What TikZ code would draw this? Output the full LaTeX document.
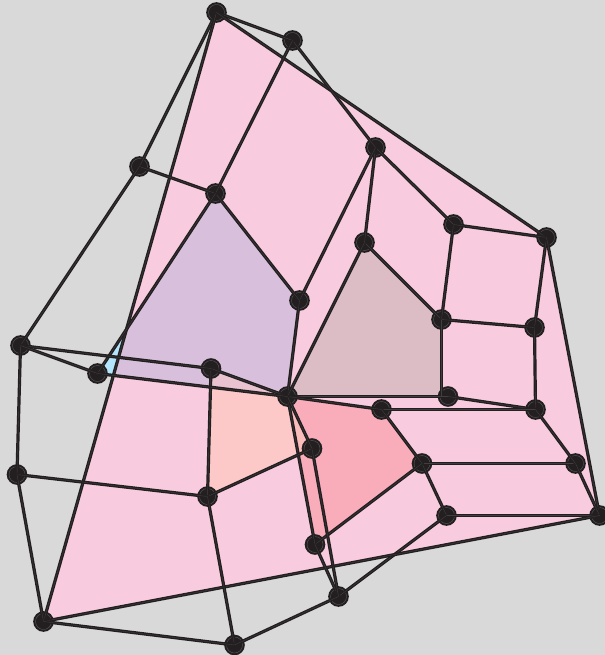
\documentclass[tikz,border=0pt]{standalone}
\definecolor{bgc}{HTML}{D9D9D9}
\definecolor{dark}{HTML}{231F20}
\definecolor{core}{HTML}{5A585A}
\definecolor{corelink}{HTML}{403E3F}
\definecolor{pinkc}{HTML}{F9CBDF}
\definecolor{purplec}{HTML}{D8C0DD}
\definecolor{bluec}{HTML}{B3E5FC}
\definecolor{brownc}{HTML}{DCBCC5}
\definecolor{orangec}{HTML}{FCC8C8}
\definecolor{rosec}{HTML}{F9ADBA}
\definecolor{mixc}{HTML}{E9C4D0}
\definecolor{peachc}{HTML}{FBBCBC}
\tikzset{
  vtx/.style={circle,fill=dark,draw=core,line width=0.3pt,inner sep=0pt,minimum size=12pt,
    preaction={draw=dark,line width=3.4pt}},
  lnk/.style={draw=dark,line width=2.4pt,postaction={draw=corelink,line width=0.3pt}},
}
\begin{document}
\begin{tikzpicture}[x=0.75pt,y=-0.75pt]
\useasboundingbox (0,0) rectangle (605,655);
\fill[bgc] (0,0) rectangle (605,655);
% vertices as coordinates first
\foreach \n/\x/\y in {a/216.5/12.5,b/292.5/40.5,c/375.5/147.5,d/139.5/166.5,e/215.5/193.5,f/453.5/224.5,g/546.5/237.5,h/364.5/242.5,i/299.5/300.5,j/441.5/319.5,k/534.5/327.5,l/20.5/345.5,m/97.5/373.5,n/211/368.5,o/287.5/396.5,p/448/396.5,q/381.5/409.5,r/535.5/409.5,s/312/448.5,t/422/463.5,u/575.5/463.5,v/17/474.5,w/207.5/496.5,x/446.5/515.5,y/599.5/515.5,z/315/544.5,aa/338.5/596.5,ab/43.5/621.5,ac/234.5/645}
  \coordinate (\n) at (\x,\y);
\coordinate (pj) at (441.5,396);
% regions
\fill[pinkc] (a) -- (g) -- (y) -- (ab) -- cycle;
\coordinate (b1) at (intersection cs:first line={(a)--(ab)},second line={(e)--(m)});
\coordinate (b2) at (intersection cs:first line={(a)--(ab)},second line={(m)--(o)});
\coordinate (c1) at (intersection cs:first line={(n)--(w)},second line={(m)--(o)});
\coordinate (c2) at (intersection cs:first line={(o)--(z)},second line={(s)--(w)});
\fill[bluec] (m) -- (b2) -- (b1) -- cycle;
\fill[purplec] (e) -- (i) -- (o) -- (b2) -- (b1) -- cycle;
\fill[brownc] (h) -- (j) -- (pj) -- (o) -- cycle;
\fill[orangec] (n) -- (o) -- (s) -- (w) -- cycle;
\fill[mixc] (n) -- (o) -- (c1) -- cycle;
\fill[rosec] (o) -- (q) -- (t) -- (z) -- cycle;
\fill[peachc] (o) -- (s) -- (c2) -- cycle;
% nodes
\foreach \n in {a,b,c,d,e,f,g,h,i,j,k,l,m,n,o,p,q,r,s,t,u,v,w,x,y,z,aa,ab,ac}
  \node[vtx] (N\n) at (\n) {};
% connectors
\foreach \p/\q in {a/b,a/d,a/ab,a/g,b/c,b/e,c/f,c/h,c/i,d/e,d/l,e/i,e/m,i/o,h/j,h/o,f/j,f/g,g/k,g/y,j/k,k/r,p/o,p/r,o/q,q/r,q/t,t/u,t/x,t/z,u/r,u/y,x/y,x/aa,y/ab,z/o,z/aa,s/aa,s/w,s/o,n/o,n/w,n/l,m/l,m/o,l/v,v/w,v/ab,w/ac,ab/ac,ac/aa}
  \draw[lnk] (N\p.center) -- (N\q.center);
\draw[lnk] (Nj.center) -- (pj);
\end{tikzpicture}
\end{document}
